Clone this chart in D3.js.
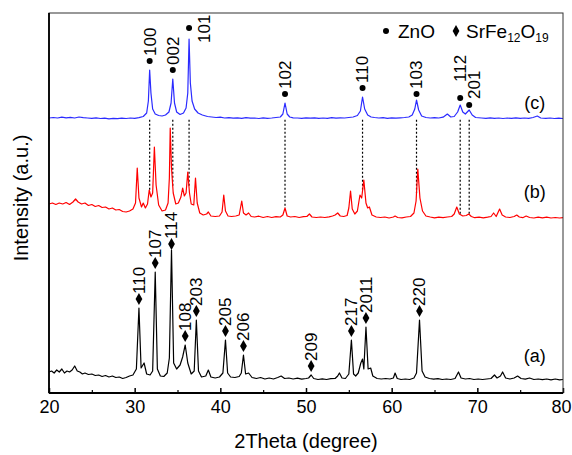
<!DOCTYPE html>
<html>
<head>
<meta charset="utf-8">
<script src="https://cdn.jsdelivr.net/npm/d3@7"></script>
<style>
  body { margin: 0; background: #fff; }
  svg text { font-family: "Liberation Sans", Arial, sans-serif; fill: #000; }
</style>
</head>
<body>
<div class="container"></div>
<script>
// XRD patterns, [2theta, intensity a.u.]
var patternA = [[20,21],[20.3,22],[20.6,20],[20.9,23],[21.2,21],[21.5,24],[21.8,20],[22.1,22],[22.4,21],[22.7,23],[23.0,27],[23.3,22],[23.6,21],[23.9,19],[24.2,20],[24.6,18.5],[25,19],[25.4,17.5],[25.8,18],[26.2,16.5],[26.6,17.5],[27,16],[27.4,17],[27.8,15.5],[28.2,16],[28.6,14.5],[29,15.5],[29.4,17],[29.8,18],[30.2,24],[30.5,85],[30.75,25],[31.1,30],[31.4,19],[31.8,18],[32.1,22],[32.4,121],[32.65,24],[33,17],[33.4,16.5],[33.8,20],[34.05,35],[34.3,143],[34.55,30],[34.9,24],[35.3,28],[35.6,36],[35.9,48],[36.2,30],[36.6,19],[36.95,22],[37.2,73],[37.45,22],[37.8,16],[38.3,17],[38.6,23],[38.9,16],[39.4,15],[39.9,16],[40.3,20],[40.6,53],[40.85,20],[41.2,16],[41.7,15.5],[42.2,16.5],[42.45,20],[42.7,38],[42.95,19],[43.3,20],[43.7,15.5],[44.2,14.5],[44.7,15.5],[45.2,14],[45.7,15],[46.2,14],[46.7,15.5],[47.1,17],[47.5,14.5],[48,15],[48.5,14],[49,14.8],[49.5,13.8],[50,14.5],[50.3,15],[50.6,18],[50.9,14.5],[51.4,13.5],[51.9,14.2],[52.4,13.5],[52.9,14.3],[53.4,14.5],[53.7,17],[53.9,20],[54.2,15],[54.6,14.5],[55.0,19],[55.3,53],[55.55,19],[55.8,17],[56.1,20],[56.4,30],[56.6,34],[56.75,24],[57.0,66],[57.25,24],[57.55,25],[57.8,17],[58.3,14.5],[58.8,14],[59.3,14.5],[59.8,14],[60.2,15],[60.4,20],[60.65,14.5],[61.1,13.5],[61.6,14],[62.1,13.5],[62.6,15],[62.9,20],[63.25,73],[63.55,22],[63.9,16],[64.4,14.5],[64.9,13.8],[65.4,14.3],[65.9,13.5],[66.4,14],[66.9,13.5],[67.4,14.5],[67.8,21],[68.1,15],[68.6,14],[69.1,14.5],[69.6,13.5],[70.1,14],[70.6,13.5],[71.1,14],[71.6,14.5],[72.0,18],[72.3,15],[72.7,17],[72.95,21],[73.3,15],[73.8,14],[74.3,15],[74.7,17],[75.1,14.5],[75.6,13.8],[76.1,15],[76.6,13.5],[77.1,14],[77.6,13.3],[78.1,14],[78.6,13.2],[79.1,14],[79.6,13.2],[80,13.5]];

var patternB = [[20,189],[20.4,190],[20.8,188.5],[21.2,190],[21.6,189],[22,190.5],[22.4,188.5],[22.8,191],[23.1,194],[23.4,191],[23.8,189],[24.2,190],[24.6,187.5],[25,188.5],[25.4,186.5],[25.8,187.5],[26.2,185.5],[26.6,186],[27,184],[27.4,185],[27.8,183],[28.2,183.5],[28.6,181.5],[29,181],[29.4,182],[29.8,184],[30.1,190],[30.3,225],[30.5,195],[30.8,186],[31.0,190],[31.25,185],[31.5,189],[31.7,203],[31.9,196],[32.1,200],[32.3,246],[32.5,208],[32.8,188],[33.2,182],[33.6,183],[33.9,190],[34.05,215],[34.15,265],[34.3,225],[34.5,200],[34.8,189],[35.1,190],[35.4,196],[35.6,205],[35.8,197],[36.0,200],[36.2,221],[36.4,200],[36.6,189],[36.9,188],[37.1,215],[37.3,190],[37.6,180],[38.0,178],[38.4,179],[38.6,181],[38.9,177],[39.4,176.5],[39.9,177],[40.2,181],[40.4,198],[40.6,182],[40.9,177],[41.3,176.5],[41.8,177],[42.2,178],[42.5,192],[42.7,180],[43.0,178],[43.3,180],[43.6,176.5],[44,176],[44.5,176.8],[45,175.5],[45.5,176.5],[46,175.5],[46.5,176.3],[47,176],[47.3,178],[47.55,185],[47.8,177],[48.2,176],[48.7,176.5],[49.2,175.5],[49.7,176.3],[50.1,176.5],[50.4,179],[50.7,176],[51.2,175.5],[51.7,176],[52.2,175.5],[52.7,176.2],[53.1,177],[53.4,178],[53.7,180],[54.0,177],[54.4,176.5],[54.8,177.5],[55.0,185],[55.2,202],[55.4,184],[55.7,179],[56.0,182],[56.3,198],[56.5,195],[56.75,213],[57.0,190],[57.2,185],[57.4,186],[57.7,178],[58.2,176],[58.7,175.5],[59.2,176],[59.7,175],[60.2,176],[60.4,177],[60.7,175.5],[61.2,175.2],[61.7,176],[62.2,176.5],[62.6,180],[62.85,192],[63.05,224],[63.3,195],[63.6,182],[64,177],[64.5,176],[65,175.2],[65.5,175.8],[66,175.3],[66.5,176],[67,176.5],[67.3,179],[67.6,186],[67.9,179],[68.3,177],[68.7,177.5],[69.0,179],[69.3,176.5],[69.7,175.3],[70.2,175.8],[70.7,175.2],[71.2,175.8],[71.6,176.5],[71.9,180],[72.2,176.5],[72.6,184],[72.9,178],[73.3,176],[73.8,175.5],[74.3,176.5],[74.6,178],[74.9,176],[75.3,175.3],[75.7,177],[76.1,175.5],[76.6,175],[77.1,175.8],[77.6,175.2],[78.1,175.8],[78.6,175],[79.1,175.5],[79.6,175],[80,175.3]];

var patternC = [[20,275],[20.5,275.5],[21,275],[21.5,275.8],[22,275.2],[22.5,275.6],[23,275],[23.5,276],[24,275.3],[24.5,275],[25,274.6],[25.5,275.2],[26,274.5],[26.5,274.8],[27,274.2],[27.5,274.6],[28,274.3],[28.5,274.8],[29,274.5],[29.5,275],[30,274.7],[30.5,275.3],[31,276.5],[31.4,280],[31.6,292],[31.75,323],[31.9,300],[32.1,284],[32.4,279],[32.8,277.5],[33.2,277],[33.6,278],[34,281],[34.25,290],[34.45,314],[34.65,290],[34.9,281],[35.3,278.5],[35.7,280],[36.0,285],[36.2,300],[36.35,354],[36.5,310],[36.7,292],[37.0,284],[37.4,280],[37.9,278],[38.5,276.5],[39,276],[39.5,275.5],[40,275.8],[40.5,275],[41,275.4],[41.5,274.8],[42,275.2],[42.5,274.6],[43,275.3],[43.5,274.8],[44,275],[44.5,274.5],[45,275.2],[45.5,274.7],[46,275],[46.5,275.5],[47,276],[47.3,279],[47.55,290],[47.8,279],[48.1,276],[48.5,275.2],[49,275],[49.5,274.6],[50,275.2],[50.5,274.8],[51,275.2],[51.5,274.6],[52,275],[52.5,274.7],[53,275.3],[53.5,274.8],[54,275.2],[54.5,275],[55,275.5],[55.5,276],[56,277.5],[56.35,282],[56.6,296],[56.85,284],[57.2,278],[57.6,276],[58,275.5],[58.5,275],[59,275.3],[59.5,274.7],[60,275.2],[60.5,274.8],[61,275.2],[61.5,275.5],[62,276],[62.4,278],[62.7,284],[62.9,293],[63.15,283],[63.5,277],[64,275.5],[64.5,275],[65,275.3],[65.5,275],[66,275.8],[66.5,279],[66.9,276],[67.3,276.5],[67.7,281],[68.0,288],[68.3,281],[68.6,279],[69.05,283],[69.4,278],[69.8,275.5],[70.5,275],[71,274.6],[71.5,275.1],[72,274.7],[72.5,275],[73,274.5],[73.5,275],[74,274.6],[74.5,275.2],[75,274.6],[75.5,275],[76,274.6],[76.5,275.5],[77,277],[77.4,275],[78,274.6],[78.5,275],[79,274.5],[79.5,274.8],[80,274.5]];

var patternNames = ["(a)", "(b)", "(c)"];
var patternColors = ["#000000", "#ff0000", "#2b2bff"];

// reflections
var znoPos = [31.75, 34.45, 36.35, 47.55, 56.6, 62.9, 68.0, 69.05];
var znoHkl = ["100", "002", "101", "102", "110", "103", "112", "201"];
var srfePos = [30.5, 32.4, 34.3, 35.9, 37.2, 40.6, 42.7, 50.6, 55.3, 57.0, 63.25];
var srfeHkl = ["110", "107", "114", "108", "203", "205", "206", "209", "217", "2011", "220"];

var xTicks = [20, 30, 40, 50, 60, 70, 80];
var xMinorTicks = [25, 35, 45, 55, 65, 75];

var W = 572, H = 455;
var margin = {left: 49, right: 9, top: 13, bottom: 62};
var pw = W - margin.left - margin.right, ph = H - margin.top - margin.bottom;

var svg = d3.select(".container").append("svg")
  .attr("width", W).attr("height", H);

var x = d3.scaleLinear().domain([20, 80]).range([margin.left, margin.left + pw]);
var y = d3.scaleLinear().domain([0, 380]).range([margin.top + ph, margin.top]);

var line = d3.line().x(function (d) { return x(d[0]); }).y(function (d) { return y(d[1]); });

// value of a pattern at a given 2theta (linear between points)
var bis = d3.bisector(function (d) { return d[0]; }).left;
function valueAt(series, t) {
  var i = bis(series, t);
  if (i <= 0) return series[0][1];
  if (i >= series.length) return series[series.length - 1][1];
  var a = series[i - 1], b = series[i];
  return a[1] + (b[1] - a[1]) * (t - a[0]) / (b[0] - a[0]);
}

var patterns = [patternA, patternB, patternC];

// dotted guide lines from (c) down to (b)
var baseC = d3.min(patternC, function (d) { return d[1]; });
svg.append("g").selectAll("line")
  .data(znoPos)
  .enter().append("line")
  .attr("x1", function (d) { return x(d); })
  .attr("x2", function (d) { return x(d); })
  .attr("y1", y(baseC) + 1)
  .attr("y2", function (d) { return y(valueAt(patternB, d)); })
  .attr("stroke", "#000")
  .attr("stroke-width", 1.2)
  .attr("stroke-dasharray", "2,2");

// curves
svg.append("g").selectAll("path")
  .data(patterns)
  .enter().append("path")
  .attr("d", line)
  .attr("fill", "none")
  .attr("stroke", function (d, i) { return patternColors[i]; })
  .attr("stroke-width", 1.2)
  .attr("stroke-linejoin", "round");

// pattern names
var nameDy = [24, 26, 14];
svg.append("g").selectAll("text")
  .data(patternNames)
  .enter().append("text")
  .attr("x", x(76.7))
  .attr("y", function (d, i) { return y(valueAt(patterns[i], 76.7)) - nameDy[i]; })
  .attr("dy", "0.35em")
  .attr("text-anchor", "middle")
  .attr("font-size", 18)
  .text(function (d) { return d; });

// peak labels
var labelFont = 17;
function addLabels(series, pos, hkl, marker, tweak) {
  var g = svg.append("g");
  pos.forEach(function (p, i) {
    var t = tweak[hkl[i]] || {};
    var px = x(p);
    var my = y(valueAt(series, p)) - (t.gap || 9);
    if (marker === "dot") {
      g.append("circle").attr("cx", px).attr("cy", my).attr("r", 3).attr("fill", "#000");
    } else {
      g.append("path")
        .attr("d", d3.symbol().type(d3.symbolDiamond).size(40)())
        .attr("transform", "translate(" + px + "," + my + ")")
        .attr("fill", "#000");
    }
    g.append("text")
      .attr("transform", "translate(" + (px + (t.dx || 0)) + "," + (my - 5 + (t.dy || 0)) + ") rotate(-90)")
      .attr("dy", "0.35em")
      .attr("font-size", labelFont)
      .text(hkl[i]);
  });
}
addLabels(patternC, znoPos, znoHkl, "dot",
  {"101": {gap: 11, dx: 15, dy: 20}, "112": {gap: 7, dy: -11}, "201": {gap: 5, dx: 5, dy: -1}, "103": {gap: 6}});
addLabels(patternA, srfePos, srfeHkl, "diamond", {"114": {gap: 6}});

// axes
var axisBottom = svg.append("g")
  .attr("transform", "translate(0," + (margin.top + ph) + ")")
  .call(d3.axisBottom(x).tickValues(xTicks).tickSize(-5).tickPadding(7).tickFormat(d3.format("d")));
axisBottom.select(".domain").remove();
axisBottom.selectAll("text").attr("font-size", 18).attr("font-family", "Liberation Sans, Arial, sans-serif");
axisBottom.selectAll(".tick:last-of-type text").attr("dx", "-2");
axisBottom.selectAll("line").attr("stroke-width", 1.5);

svg.append("g")
  .attr("transform", "translate(0," + (margin.top + ph) + ")")
  .call(d3.axisBottom(x).tickValues(xMinorTicks).tickSize(-3).tickFormat(""))
  .call(function (g) { g.select(".domain").remove(); })
  .selectAll("line").attr("stroke-width", 1.2);

// frame
svg.append("rect")
  .attr("x", margin.left).attr("y", margin.top)
  .attr("width", pw).attr("height", ph)
  .attr("fill", "none").attr("stroke", "#333").attr("stroke-width", 1);
svg.append("line")
  .attr("x1", margin.left).attr("x2", margin.left)
  .attr("y1", margin.top).attr("y2", margin.top + ph)
  .attr("stroke", "#000").attr("stroke-width", 1.8);
svg.append("line")
  .attr("x1", margin.left).attr("x2", margin.left + pw)
  .attr("y1", margin.top + ph).attr("y2", margin.top + ph)
  .attr("stroke", "#000").attr("stroke-width", 1.8);

// axis titles
svg.append("text")
  .attr("x", margin.left + pw / 2).attr("y", 448)
  .attr("text-anchor", "middle").attr("font-size", 20)
  .text("2Theta (degree)");
svg.append("text")
  .attr("transform", "translate(21," + (margin.top + 185) + ") rotate(-90)")
  .attr("dy", "0.35em")
  .attr("text-anchor", "middle").attr("font-size", 20)
  .text("Intensity (a.u.)");

// legend
var leg = svg.append("g").attr("transform", "translate(386,31)");
leg.append("circle").attr("cx", 0).attr("cy", 0).attr("r", 3).attr("fill", "#000");
leg.append("text").attr("x", 12).attr("y", 7).attr("font-size", 19).text("ZnO");
leg.append("path")
  .attr("d", d3.symbol().type(d3.symbolDiamond).size(40)())
  .attr("transform", "translate(70,0)").attr("fill", "#000");
var lt = leg.append("text").attr("x", 80).attr("y", 7).attr("font-size", 19);
lt.append("tspan").text("SrFe");
lt.append("tspan").attr("font-size", 12).attr("dy", 4).text("12");
lt.append("tspan").attr("dy", -4).text("O");
lt.append("tspan").attr("font-size", 12).attr("dy", 4).text("19");
</script>
</body>
</html>
